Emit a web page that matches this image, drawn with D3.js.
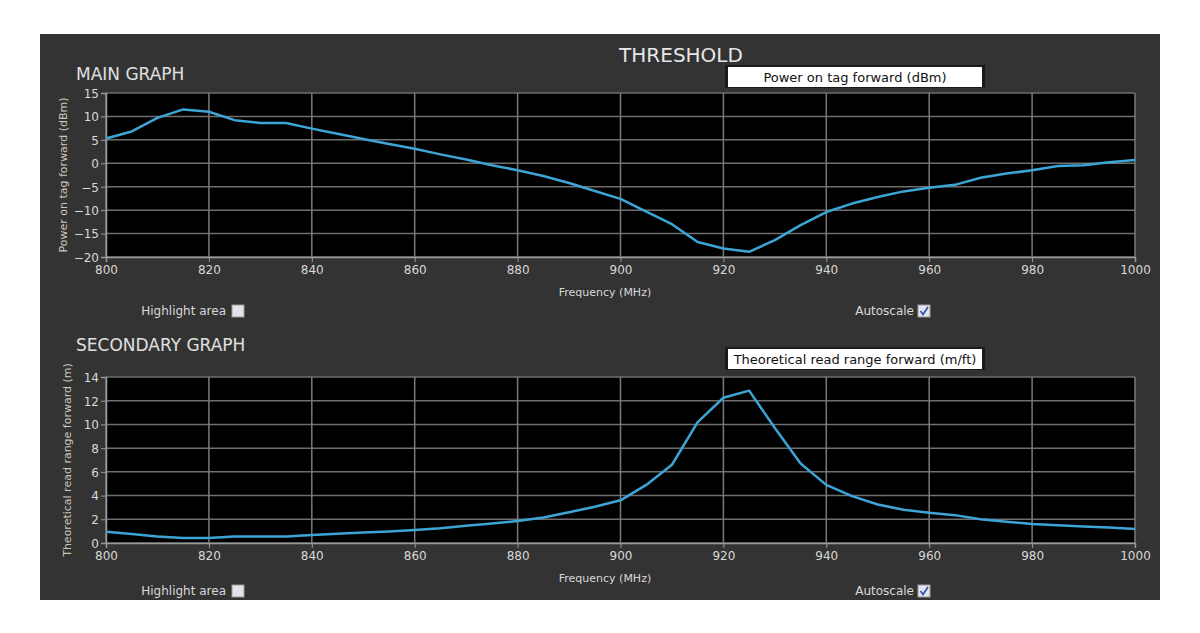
<!DOCTYPE html>
<html><head><meta charset="utf-8">
<script src="https://cdn.jsdelivr.net/npm/d3@7"></script>
<style>
html,body{margin:0;padding:0;background:#fff;}
svg{display:block;font-family:"DejaVu Sans",Verdana,sans-serif;}
</style></head><body>
<svg id="c" width="1200" height="633"></svg>
<script>
const freqs = d3.range(800, 1001, 5);
const powerForward = [5.3,6.8,9.7,11.5,11.0,9.2,8.6,8.6,7.4,6.3,5.2,4.1,3.1,1.9,0.8,-0.4,-1.5,-2.7,-4.2,-5.9,-7.6,-10.3,-13.0,-16.8,-18.2,-18.9,-16.4,-13.2,-10.4,-8.6,-7.2,-6.0,-5.2,-4.6,-3.1,-2.2,-1.5,-0.6,-0.4,0.2,0.7];
const readRange = [0.95,0.75,0.55,0.42,0.42,0.55,0.55,0.55,0.67,0.78,0.88,0.98,1.1,1.25,1.45,1.65,1.85,2.15,2.6,3.05,3.6,4.9,6.6,10.2,12.25,12.85,9.7,6.7,4.9,3.95,3.25,2.8,2.55,2.35,2.0,1.8,1.6,1.5,1.4,1.3,1.18];
const xTicks = [800,820,840,860,880,900,920,940,960,980,1000];
const mainYTicks = [-20,-15,-10,-5,0,5,10,15];
const secYTicks = [0,2,4,6,8,10,12,14];

const svg = d3.select("#c");
svg.append("rect").attr("x",40).attr("y",34).attr("width",1120).attr("height",566).attr("fill","#333333");
svg.append("text").attr("x",681).attr("y",62).attr("text-anchor","middle").attr("font-size",20).attr("fill","#e6e6e6").text("THRESHOLD");

function panel(cfg){
  const x = d3.scaleLinear().domain([800,1000]).range([106,1135]);
  const y = d3.scaleLinear().domain(cfg.ydom).range([cfg.bottom, cfg.top]);
  svg.append("text").attr("x",76).attr("y",cfg.titleY).attr("font-size",17).attr("fill","#e0e0e0").text(cfg.title);
  // legend box
  svg.append("rect").attr("x",725).attr("y",cfg.legY-2).attr("width",260).attr("height",23).attr("fill","#1a1a1a");
  svg.append("rect").attr("x",728).attr("y",cfg.legY).attr("width",254).attr("height",20).attr("fill","#ffffff");
  svg.append("text").attr("x",855).attr("y",cfg.legY+15).attr("text-anchor","middle").attr("font-size",13).attr("fill","#111").text(cfg.legend);
  // plot bg
  svg.append("rect").attr("x",106).attr("y",cfg.top).attr("width",1029).attr("height",cfg.bottom-cfg.top).attr("fill","#000");
  const g = svg.append("g");
  g.selectAll(".hg").data(cfg.yticks).join("line")
    .attr("x1",106).attr("x2",1135).attr("y1",d=>y(d)).attr("y2",d=>y(d))
    .attr("stroke","#6e6e6e").attr("stroke-width",1.5);
  g.selectAll(".vg").data(xTicks).join("line")
    .attr("x1",d=>x(d)).attr("x2",d=>x(d)).attr("y1",cfg.top).attr("y2",cfg.bottom)
    .attr("stroke","#7a7a7a").attr("stroke-width",1.5);
  // axes
  const xa = svg.append("g").attr("transform",`translate(0,${cfg.bottom})`)
    .call(d3.axisBottom(x).tickValues(xTicks).tickSize(5).tickPadding(3).tickFormat(d3.format("d")));
  const ya = svg.append("g").attr("transform","translate(106,0)")
    .call(d3.axisLeft(y).tickValues(cfg.yticks).tickSize(5).tickPadding(2).tickFormat(d3.format("d")));
  [xa,ya].forEach(a=>{
    a.select(".domain").attr("stroke","#9a9a9a").attr("stroke-width",1.5);
    a.selectAll(".tick line").attr("stroke","#9a9a9a");
    a.selectAll(".tick text").attr("fill","#d8d8d8").attr("font-size",12).attr("font-family","DejaVu Sans, sans-serif");
  });
  ya.selectAll(".tick text").attr("dy","0.36em");
  // line
  const line = d3.line().x((d,i)=>x(freqs[i])).y(d=>y(d));
  svg.append("path").datum(cfg.values).attr("d",line).attr("fill","none")
    .attr("stroke","#3da5d6").attr("stroke-width",2.5).attr("stroke-linejoin","round");
  // labels
  svg.append("text").attr("x",605).attr("y",cfg.bottom+cfg.freqOff).attr("text-anchor","middle").attr("font-size",11).attr("fill","#d8d8d8").text("Frequency (MHz)");
  svg.append("text").attr("transform",`translate(${cfg.ylabX},${(cfg.top+cfg.bottom)/2}) rotate(-90)`)
    .attr("text-anchor","middle").attr("font-size",11).attr("fill","#cdc6b8").text(cfg.ylabel);
  const cy = cfg.bottom+cfg.chkOff;
  svg.append("text").attr("x",226).attr("y",cy+4).attr("text-anchor","end").attr("font-size",12).attr("fill","#d8d8d8").text("Highlight area");
  svg.append("rect").attr("x",232).attr("y",cy-6).attr("width",12).attr("height",12).attr("fill","#e4e4e8").attr("stroke","#9a9a9a");
  svg.append("text").attr("x",914).attr("y",cy+4).attr("text-anchor","end").attr("font-size",12).attr("fill","#d8d8d8").text("Autoscale");
  svg.append("rect").attr("x",918).attr("y",cy-6).attr("width",12).attr("height",12).attr("fill","#e4e4ee").attr("stroke","#9a9a9a");
  svg.append("path").attr("d",`M920.5,${cy} L923,${cy+3.5} L928,${cy-4}`).attr("fill","none").attr("stroke","#3050b0").attr("stroke-width",1.6);
}

panel({title:"MAIN GRAPH", titleY:80, legend:"Power on tag forward (dBm)", legY:67,
  top:93, bottom:257, ydom:[-20,15], yticks:mainYTicks, values:powerForward,
  ylabel:"Power on tag forward (dBm)", ylabX:67, freqOff:39, chkOff:54});
panel({title:"SECONDARY GRAPH", titleY:351, legend:"Theoretical read range forward (m/ft)", legY:349,
  top:377, bottom:543, ydom:[0,14], yticks:secYTicks, values:readRange,
  ylabel:"Theoretical read range forward (m)", ylabX:71, freqOff:39, chkOff:48});
</script></body></html>
